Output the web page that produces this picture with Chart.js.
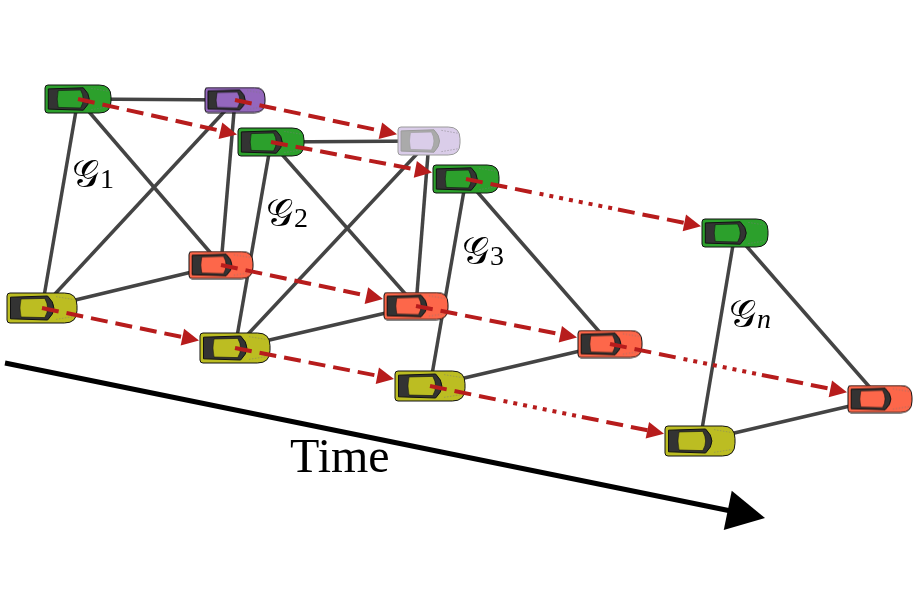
<!DOCTYPE html>
<html>
<head>
<meta charset="utf-8">
<script src="https://cdn.jsdelivr.net/npm/chart.js@4.4.1/dist/chart.umd.min.js"></script>
<style>
  html, body { margin: 0; padding: 0; background: #fff; }
  #wrap { width: 915px; height: 589px; }
</style>
</head>
<body>
<div id="wrap"><canvas id="net" width="915" height="589"></canvas></div>
<script>
// cars (graph nodes) per snapshot: green, purple, red, yellow
const carNames = ['A1', 'P1', 'R1', 'Y1', 'A2', 'P2', 'R2', 'Y2', 'A3', 'R3', 'Y3', 'An', 'Rn', 'Yn'];
const carX     = [78, 235, 221, 42, 271, 429, 416, 235, 466, 610, 430, 735, 880, 700];
const carY     = [99, 100, 265, 308, 142, 141, 306, 348, 179, 344, 386, 233, 399, 441];
const carKind  = ['green', 'purple', 'red', 'yellow', 'green', 'faded', 'red', 'yellow',
                  'green', 'red', 'yellow', 'green', 'red', 'yellow'];

// links inside each snapshot
const edgeFrom = ['A1', 'A1', 'A1', 'P1', 'P1', 'Y1', 'A2', 'A2', 'A2', 'P2', 'P2', 'Y2', 'A3', 'A3', 'Y3', 'An', 'An', 'Yn'];
const edgeTo   = ['P1', 'Y1', 'R1', 'Y1', 'R1', 'R1', 'P2', 'Y2', 'R2', 'Y2', 'R2', 'R2', 'Y3', 'R3', 'R3', 'Yn', 'Rn', 'Rn'];

// same car from one snapshot to the next
const moveFrom = ['A1', 'P1', 'A2', 'A3', 'R1', 'R2', 'R3', 'Y1', 'Y2', 'Y3'];
const moveTo   = ['A2', 'P2', 'A3', 'An', 'R2', 'R3', 'Rn', 'Y2', 'Y3', 'Yn'];
const moveGap  = [false, false, false, true, false, false, true, false, false, true];

// graph labels
const labelSub = ['1', '2', '3', 'n'];
const labelX   = [72, 266, 462, 729];
const labelY   = [187, 226, 264, 327];

// time axis
const timeX = [5, 765];
const timeY = [363, 518];
const timeText = 'Time';

//==============================================================
const carStyles = {
  green:  { w: 66, h: 28, fill: '#2ca02c', line: '#111', glass: '#333' },
  purple: { w: 60, h: 25, fill: '#9467bd', line: '#111', glass: '#333' },
  faded:  { w: 62, h: 28, fill: '#dacde9', line: '#9a9a9a', glass: '#aaaaaa' },
  red:    { w: 64, h: 27, fill: '#fd674a', line: '#111', glass: '#333' },
  yellow: { w: 70, h: 30, fill: '#bcbd22', line: '#111', glass: '#333' }
};

function makeCar(kind) {
  const s = carStyles[kind];
  const w = s.w, h = s.h;
  const cv = document.createElement('canvas');
  cv.width = w + 2;
  cv.height = h + 2;
  const c = cv.getContext('2d');
  c.translate(1, 1);
  const rl = 3, rr = h * 0.42;
  c.beginPath();
  c.moveTo(rl, 0);
  c.lineTo(w - rr, 0);
  c.quadraticCurveTo(w, 0, w, rr);
  c.lineTo(w, h - rr);
  c.quadraticCurveTo(w, h, w - rr, h);
  c.lineTo(rl, h);
  c.quadraticCurveTo(0, h, 0, h - rl);
  c.lineTo(0, rl);
  c.quadraticCurveTo(0, 0, rl, 0);
  c.closePath();
  c.fillStyle = s.fill;
  c.fill();
  c.lineWidth = 1;
  c.strokeStyle = s.line;
  c.stroke();

  // cabin (windows)
  c.beginPath();
  c.moveTo(w * 0.05, h * 0.14);
  c.lineTo(w * 0.58, h * 0.10);
  c.quadraticCurveTo(w * 0.76, h * 0.5, w * 0.58, h * 0.90);
  c.lineTo(w * 0.05, h * 0.86);
  c.closePath();
  c.fillStyle = s.glass;
  c.fill();
  c.strokeStyle = s.line;
  c.stroke();

  // roof
  c.beginPath();
  c.moveTo(w * 0.20, h * 0.20);
  c.lineTo(w * 0.54, h * 0.18);
  c.quadraticCurveTo(w * 0.62, h * 0.5, w * 0.54, h * 0.82);
  c.lineTo(w * 0.20, h * 0.80);
  c.quadraticCurveTo(w * 0.17, h * 0.5, w * 0.20, h * 0.20);
  c.closePath();
  c.fillStyle = s.fill;
  c.fill();
  c.lineWidth = 0.6;
  c.strokeStyle = s.line;
  c.stroke();

  // faint hood lines
  c.setLineDash([1.5, 1.5]);
  c.strokeStyle = 'rgba(120,120,120,0.7)';
  c.lineWidth = 0.7;
  c.beginPath();
  c.moveTo(w * 0.70, h * 0.12); c.lineTo(w * 0.96, h * 0.22);
  c.moveTo(w * 0.70, h * 0.88); c.lineTo(w * 0.96, h * 0.78);
  c.stroke();
  return cv;
}

const carImages = {};
Object.keys(carStyles).forEach((k) => { carImages[k] = makeCar(k); });

function pt(name) {
  const i = carNames.indexOf(name);
  return { x: carX[i], y: carY[i] };
}

// dash pattern in pixels: visible part then one long gap
function dashPattern(vis, broken, total) {
  const out = [];
  let pos = 0;
  const push = (on, off) => { out.push(on, off); pos += on + off; };
  if (broken) {
    const a = vis * 0.37, b = vis * 0.70;
    while (pos + 17 < a) push(17, 8);
    while (pos + 4 < b) push(4, 6);
    while (pos + 17 < vis) push(17, 8);
  } else {
    while (pos + 17 < vis) push(17, 8);
  }
  out.push(Math.max(vis - pos, 0), total + 100);
  return out;
}

function tipBack(ds, dx, len) {
  if (!ds.targetKind) return 0;
  const cos = Math.abs(dx / len) || 1;
  return (carStyles[ds.targetKind].w / 2) / cos + 1;
}

//==============================================================
const datasets = [];

for (let i = 0; i < edgeFrom.length; i++) {
  datasets.push({
    data: [pt(edgeFrom[i]), pt(edgeTo[i])],
    showLine: true,
    borderColor: '#444444',
    borderWidth: 3.5,
    pointRadius: 0,
    order: 4
  });
}

datasets.push({
  data: [{ x: timeX[0], y: timeY[0] }, { x: timeX[1], y: timeY[1] }],
  showLine: true,
  borderColor: '#000',
  borderWidth: 5,
  pointRadius: 0,
  order: 4,
  headLen: 38,
  headHalf: 20,
  headColor: '#000',
  segment: {
    borderDash: (ctx) => {
      const ds = ctx.chart.data.datasets[ctx.datasetIndex];
      const len = Math.hypot(ctx.p1.x - ctx.p0.x, ctx.p1.y - ctx.p0.y);
      return [len - ds.headLen + 2, len + 100];
    }
  }
});

datasets.push({
  data: carNames.map((n) => pt(n)),
  pointStyle: (ctx) => carImages[carKind[ctx.dataIndex]],
  pointRadius: 12,
  showLine: false,
  order: 2
});

for (let i = 0; i < moveFrom.length; i++) {
  datasets.push({
    data: [pt(moveFrom[i]), pt(moveTo[i])],
    showLine: true,
    borderColor: '#b71c1c',
    borderWidth: 4,
    pointRadius: 0,
    order: 1,
    broken: moveGap[i],
    targetKind: carKind[carNames.indexOf(moveTo[i])],
    headLen: 17,
    headHalf: 8.5,
    headColor: '#b71c1c',
    segment: {
      borderDash: (ctx) => {
        const ds = ctx.chart.data.datasets[ctx.datasetIndex];
        const dx = ctx.p1.x - ctx.p0.x;
        const len = Math.hypot(dx, ctx.p1.y - ctx.p0.y);
        const vis = len - tipBack(ds, dx, len) - ds.headLen + 2;
        return dashPattern(vis, ds.broken, len);
      }
    }
  });
}

//==============================================================
const heads = {
  id: 'heads',
  afterDatasetsDraw(chart) {
    const c = chart.ctx;
    chart.data.datasets.forEach((ds, i) => {
      if (!ds.headLen) return;
      const pts = chart.getDatasetMeta(i).data;
      const p0 = pts[0], p1 = pts[1];
      const dx = p1.x - p0.x, dy = p1.y - p0.y;
      const len = Math.hypot(dx, dy);
      const ux = dx / len, uy = dy / len;
      const back = tipBack(ds, dx, len);
      const tx = p1.x - ux * back, ty = p1.y - uy * back;
      const bx = tx - ux * ds.headLen, by = ty - uy * ds.headLen;
      c.save();
      c.fillStyle = ds.headColor;
      c.beginPath();
      c.moveTo(tx, ty);
      c.lineTo(bx - uy * ds.headHalf, by + ux * ds.headHalf);
      c.lineTo(bx + uy * ds.headHalf, by - ux * ds.headHalf);
      c.closePath();
      c.fill();
      c.restore();
    });

    const xs = chart.scales.x, ys = chart.scales.y;
    c.save();
    c.fillStyle = '#000';
    c.textBaseline = 'alphabetic';
    c.textAlign = 'left';
    for (let i = 0; i < labelSub.length; i++) {
      const x = xs.getPixelForValue(labelX[i]);
      const y = ys.getPixelForValue(labelY[i]);
      c.font = '38px "DejaVu Serif", "DejaVu Sans", serif';
      c.fillText('\u{1D4A2}', x, y);
      const w = c.measureText('\u{1D4A2}').width;
      c.font = (labelSub[i] === 'n' ? 'italic ' : '') + '28px "Liberation Serif", serif';
      c.fillText(labelSub[i], x + w + 1, y + 1);
    }
    c.font = '48px "Liberation Serif", serif';
    c.fillText(timeText, xs.getPixelForValue(290), ys.getPixelForValue(472));
    c.restore();
  }
};

const net = new Chart(document.getElementById('net'), {
  type: 'scatter',
  data: { datasets: datasets },
  options: {
    responsive: false,
    maintainAspectRatio: false,
    animation: false,
    events: [],
    layout: { padding: 0, autoPadding: false },
    scales: {
      x: { type: 'linear', min: 0, max: 915, display: false },
      y: { type: 'linear', min: 0, max: 589, reverse: true, display: false }
    },
    plugins: {
      legend: { display: false },
      tooltip: { enabled: false }
    }
  },
  plugins: [heads]
});
</script>
</body>
</html>
